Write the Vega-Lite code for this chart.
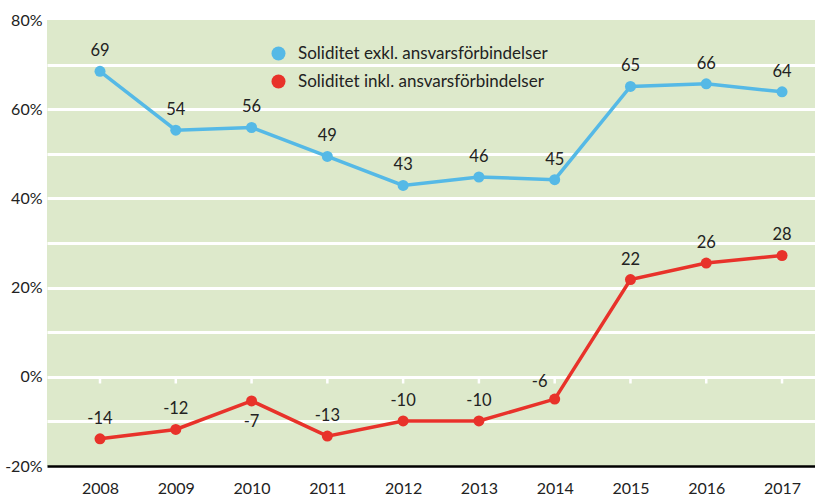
{
  "$schema": "https://vega.github.io/schema/vega-lite/v6.json",
  "width": 768,
  "height": 446,
  "autosize": {"type": "none"},
  "padding": {"left": 47, "top": 20, "right": 0, "bottom": 33},
  "background": "white",
  "config": {
    "view": {"fill": "#dde9cb", "stroke": null},
    "font": "Lato",
    "text": {"font": "Lato"}
  },
  "data": {
    "values": [
      {"year": 2008, "series": "Soliditet exkl. ansvarsförbindelser", "value": 68.5, "label": "69"},
      {"year": 2009, "series": "Soliditet exkl. ansvarsförbindelser", "value": 55.3, "label": "54"},
      {"year": 2010, "series": "Soliditet exkl. ansvarsförbindelser", "value": 55.9, "label": "56"},
      {"year": 2011, "series": "Soliditet exkl. ansvarsförbindelser", "value": 49.4, "label": "49"},
      {"year": 2012, "series": "Soliditet exkl. ansvarsförbindelser", "value": 42.9, "label": "43"},
      {"year": 2013, "series": "Soliditet exkl. ansvarsförbindelser", "value": 44.8, "label": "46"},
      {"year": 2014, "series": "Soliditet exkl. ansvarsförbindelser", "value": 44.2, "label": "45"},
      {"year": 2015, "series": "Soliditet exkl. ansvarsförbindelser", "value": 65.1, "label": "65"},
      {"year": 2016, "series": "Soliditet exkl. ansvarsförbindelser", "value": 65.7, "label": "66"},
      {"year": 2017, "series": "Soliditet exkl. ansvarsförbindelser", "value": 63.9, "label": "64"},
      {"year": 2008, "series": "Soliditet inkl. ansvarsförbindelser", "value": -13.9, "label": "-14"},
      {"year": 2009, "series": "Soliditet inkl. ansvarsförbindelser", "value": -11.8, "label": "-12"},
      {"year": 2010, "series": "Soliditet inkl. ansvarsförbindelser", "value": -5.4, "label": "-7"},
      {"year": 2011, "series": "Soliditet inkl. ansvarsförbindelser", "value": -13.3, "label": "-13"},
      {"year": 2012, "series": "Soliditet inkl. ansvarsförbindelser", "value": -9.9, "label": "-10"},
      {"year": 2013, "series": "Soliditet inkl. ansvarsförbindelser", "value": -9.9, "label": "-10"},
      {"year": 2014, "series": "Soliditet inkl. ansvarsförbindelser", "value": -5.0, "label": "-6"},
      {"year": 2015, "series": "Soliditet inkl. ansvarsförbindelser", "value": 21.8, "label": "22"},
      {"year": 2016, "series": "Soliditet inkl. ansvarsförbindelser", "value": 25.5, "label": "26"},
      {"year": 2017, "series": "Soliditet inkl. ansvarsförbindelser", "value": 27.2, "label": "28"}
    ]
  },
  "encoding": {
    "x": {
      "field": "year",
      "type": "quantitative",
      "scale": {"domain": [2007.3006, 2017.435], "nice": false, "zero": false},
      "axis": {
        "values": [2008, 2009, 2010, 2011, 2012, 2013, 2014, 2015, 2016, 2017],
        "format": "d",
        "ticks": false,
        "grid": false,
        "domain": true,
        "domainColor": "black",
        "domainWidth": 2.5,
        "labelFontSize": 16,
        "labelPadding": 14,
        "labelColor": "#222222",
        "labelFont": "Lato",
        "title": null
      }
    },
    "y": {
      "field": "value",
      "type": "quantitative",
      "scale": {"domain": [-20, 80], "nice": false, "zero": false},
      "axis": {
        "values": [-20, -10, 0, 10, 20, 30, 40, 50, 60, 70, 80],
        "labelExpr": "datum.value % 20 === 0 ? datum.value + '%' : ''",
        "domain": false,
        "ticks": false,
        "grid": true,
        "gridColor": {"condition": {"test": "datum.value === 80 || datum.value === -20", "value": "transparent"}, "value": "white"},
        "gridWidth": 3,
        "gridOpacity": 1,
        "labelFontSize": 16,
        "labelPadding": 5,
        "labelColor": "#222222",
        "labelFont": "Lato",
        "title": null
      }
    },
    "color": {
      "field": "series",
      "type": "nominal",
      "scale": {"domain": ["Soliditet exkl. ansvarsförbindelser", "Soliditet inkl. ansvarsförbindelser"], "range": ["#55b9e6", "#e8322a"]},
      "legend": {
        "orient": "none",
        "legendX": 223,
        "legendY": 25,
        "title": null,
        "symbolType": "circle",
        "symbolSize": 196,
        "symbolStrokeWidth": 0,
        "labelFontSize": 17,
        "labelFont": "Lato",
        "labelColor": "#222222",
        "labelOffset": 11,
        "rowPadding": 10,
        "padding": 0,
        "labelLimit": 400
      }
    }
  },
  "layer": [
    {
      "transform": [{"filter": "datum.series === 'Soliditet exkl. ansvarsförbindelser'"}],
      "mark": {"type": "rule", "color": "white", "strokeWidth": 2.5},
      "encoding": {
        "color": {"value": "white"},
        "y": {"datum": 0, "type": "quantitative"},
        "y2": {"datum": -1.5}
      }
    },
    {
      "mark": {"type": "line", "strokeWidth": 3.5}
    },
    {
      "mark": {"type": "point", "filled": true, "opacity": 1, "size": 121, "shape": "circle"}
    },
    {
      "transform": [{"filter": "!(datum.series === 'Soliditet inkl. ansvarsförbindelser' && (datum.year === 2010 || datum.year === 2014))"}],
      "mark": {"type": "text", "fontSize": 16.5, "dy": -20, "baseline": "middle", "align": "center"},
      "encoding": {"text": {"field": "label"}, "color": {"value": "#222222"}}
    },
    {
      "transform": [{"filter": "datum.series === 'Soliditet inkl. ansvarsförbindelser' && datum.year === 2010"}],
      "mark": {"type": "text", "fontSize": 16.5, "dy": 21, "baseline": "middle", "align": "center"},
      "encoding": {"text": {"field": "label"}, "color": {"value": "#222222"}}
    },
    {
      "transform": [{"filter": "datum.series === 'Soliditet inkl. ansvarsförbindelser' && datum.year === 2014"}],
      "mark": {"type": "text", "fontSize": 16.5, "dy": -17, "dx": -15, "baseline": "middle", "align": "center"},
      "encoding": {"text": {"field": "label"}, "color": {"value": "#222222"}}
    }
  ]
}
